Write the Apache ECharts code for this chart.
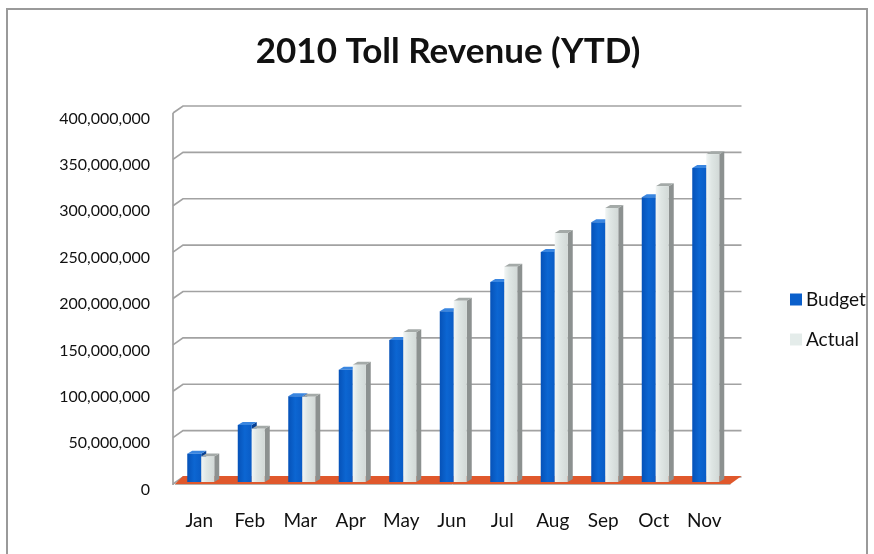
<!DOCTYPE html>
<html>
<head>
<meta charset="utf-8">
<style>
  html, body { margin: 0; padding: 0; background: #ffffff; }
  #chart { width: 874px; height: 554px; }
</style>
<script src="https://cdn.jsdelivr.net/npm/echarts@6/dist/echarts.min.js"></script>
</head>
<body>
<div id="chart"></div>
<script>
// Year-to-date toll revenue, 2010
const months = ['Jan', 'Feb', 'Mar', 'Apr', 'May', 'Jun', 'Jul', 'Aug', 'Sep', 'Oct', 'Nov'];
const budget = [30500000, 61500000, 92500000, 121000000, 153000000, 184000000, 215500000, 248000000, 280000000, 307000000, 338500000];
const actual = [27500000, 57500000, 92000000, 126500000, 161500000, 195500000, 232000000, 268500000, 295500000, 319000000, 353500000];
const yTicks = [0, 50000000, 100000000, 150000000, 200000000, 250000000, 300000000, 350000000, 400000000];

const FONT = 'Lato, "Open Sans", sans-serif';
// pseudo-3D projection: back wall offset, bar depth
const WALL_DX = 10, WALL_DY = 7;
const BAR_SHIFT = 4, BAR_LIFT = 2, BAR_DX = 5, BAR_DY = 3;

function gridRender(params, api) {
  const cs = params.coordSys;
  const y = api.coord([0, api.value(1)])[1];
  return {
    type: 'polyline',
    shape: { points: [[cs.x - 1, y], [cs.x - 1 + WALL_DX, y - WALL_DY], [cs.x + cs.width + 12, y - WALL_DY]] },
    style: { stroke: '#a2a2a2', lineWidth: 1.7, fill: null }
  };
}

function floorRender(params, api) {
  const cs = params.coordSys;
  const y0 = api.coord([0, 0])[1];
  const yTop = api.coord([0, yTicks[yTicks.length - 1]])[1];
  const xl = cs.x - 1, xr = cs.x + cs.width + 1;
  return {
    type: 'group',
    children: [
      { type: 'line', shape: { x1: xl, y1: yTop, x2: xl, y2: y0 + 1 }, style: { stroke: '#a0a0a0', lineWidth: 1.7 } },
      { type: 'polygon',
        shape: { points: [[xl + 2, y0], [xr, y0], [xr + WALL_DX + 1, y0 - WALL_DY - 1], [xl + WALL_DX, y0 - WALL_DY - 1]] },
        style: { fill: '#e0582c' } },
      { type: 'line', shape: { x1: xl + 2, y1: y0 + 0.5, x2: xr, y2: y0 + 0.5 }, style: { stroke: '#b9b0a8', lineWidth: 1 } }
    ]
  };
}

function barRender(left, right, front, side, topc) {
  return function (params, api) {
    const i = api.value(0), v = api.value(1);
    const p = api.coord([i, v]);
    const b = api.coord([i, 0]);
    const c = p[0] + BAR_SHIFT;
    const x0 = c + left, x1 = c + right;
    const yT = p[1] - BAR_LIFT, yB = b[1] - BAR_LIFT;
    return {
      type: 'group',
      children: [
        { type: 'polygon', shape: { points: [[x1, yT], [x1 + BAR_DX, yT - BAR_DY], [x1 + BAR_DX, yB - BAR_DY], [x1, yB]] }, style: { fill: side } },
        { type: 'polygon', shape: { points: [[x0, yT], [x1, yT], [x1 + BAR_DX, yT - BAR_DY], [x0 + BAR_DX, yT - BAR_DY]] }, style: { fill: topc } },
        { type: 'rect', shape: { x: x0, y: yT, width: x1 - x0, height: yB - yT }, style: { fill: front } }
      ]
    };
  };
}

const chart = echarts.init(document.getElementById('chart'), null, { renderer: 'canvas' });
chart.setOption({
  backgroundColor: '#ffffff',
  animation: false,
  title: {
    text: '2010 Toll Revenue (YTD)',
    left: 443, top: 29, textAlign: 'center',
    textStyle: { fontFamily: FONT, fontSize: 35, fontWeight: 'bold', color: '#111111' }
  },
  graphic: [{
    type: 'rect', silent: true, z: -1,
    shape: { x: 7, y: 9, width: 860, height: 560 },
    style: { fill: null, stroke: '#9a9a9a', lineWidth: 2 }
  }],
  legend: {
    data: ['Budget', 'Actual'],
    orient: 'vertical', left: 785, top: 285,
    itemWidth: 12, itemHeight: 12, itemGap: 21,
    icon: 'rect',
    textStyle: { fontFamily: FONT, fontSize: 19, color: '#111111', padding: [0, 0, 0, -1] }
  },
  grid: { left: 174, right: 144.5, top: 113, bottom: 70 },
  xAxis: {
    type: 'category', data: months,
    axisLine: { show: false }, axisTick: { show: false },
    axisLabel: { margin: 27, fontFamily: FONT, fontSize: 19, color: '#111111' }
  },
  yAxis: {
    type: 'value', min: 0, max: 400000000, interval: 50000000,
    axisLine: { show: false }, axisTick: { show: false }, splitLine: { show: false },
    axisLabel: {
      margin: 24, fontFamily: FONT, fontSize: 16, color: '#111111',
      verticalAlign: 'top', lineHeight: 11,
      formatter: v => v.toLocaleString('en-US')
    }
  },
  series: [
    { type: 'custom', name: 'wall', z: 1, silent: true, renderItem: gridRender,
      data: yTicks.map(t => [0, t]) },
    { type: 'custom', name: 'floor', z: 2, silent: true, renderItem: floorRender, data: [[0, 0]] },
    { type: 'custom', name: 'Budget', z: 3, itemStyle: { color: '#0a5fcb' },
      renderItem: barRender(-16, -2, {
        type: 'linear', x: 0, y: 0, x2: 1, y2: 0,
        colorStops: [{ offset: 0, color: '#0652b8' }, { offset: 0.5, color: '#0c66d2' }, { offset: 1, color: '#0a5cc6' }]
      }, '#063f92', '#3a86e0'),
      encode: { x: 0, y: 1 },
      data: budget.map((v, i) => [i, v]) },
    { type: 'custom', name: 'Actual', z: 4, itemStyle: { color: '#e4ecea' },
      renderItem: barRender(-2, 11, {
        type: 'linear', x: 0, y: 0, x2: 1, y2: 0,
        colorStops: [{ offset: 0, color: '#f1f5f4' }, { offset: 0.4, color: '#dfe6e4' }, { offset: 1, color: '#d2d9d7' }]
      }, '#8c9190', '#a4aaa8'),
      encode: { x: 0, y: 1 },
      data: actual.map((v, i) => [i, v]) }
  ]
});
</script>
</body>
</html>
